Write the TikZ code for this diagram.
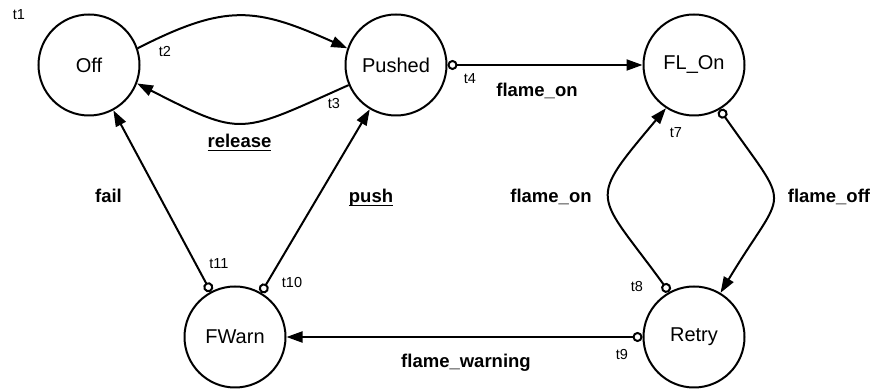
\documentclass[tikz,border=0pt]{standalone}
\usepackage{fontspec}
\setmainfont{Liberation Sans}
\usetikzlibrary{arrows.meta}
% bold event name with a thick underline
\newsavebox\evbox
\newcommand\ulevent[1]{\sbox\evbox{#1}\leavevmode\rlap{\rule[-3.5pt]{\wd\evbox}{1.5pt}}\usebox\evbox}
\begin{document}
\begin{tikzpicture}[x=1pt,y=1pt,
  state/.style={circle,draw,line width=2pt,minimum size=101pt,inner sep=0pt,
    font=\fontsize{20}{24}\selectfont},
  trans/.style={line width=2pt,-{Triangle[length=16pt,width=11pt]}},
  guarded/.style={line width=2pt,{Circle[open,length=10pt]}-{Triangle[length=16pt,width=11pt]}},
  tlab/.style={font=\fontsize{14.5}{17}\selectfont,inner sep=0pt},
  evlab/.style={font=\bfseries\fontsize{18.5}{22}\selectfont,inner sep=0pt,anchor=base}]
\useasboundingbox (0,0) rectangle (875,390);

% states
\node[state] (off)   at (89,325)  {Off};
\node[state] (push)  at (396,325) {Pushed};
\node[state] (flon)  at (694,325) {FL\_On};
\node[state] (fwarn) at (235,53)  {FWarn};
\node[state] (retry) at (694,53)  {Retry};

% transitions
\draw[trans] (off.19) .. controls +(27:100) and +(156:100) .. (push.161);
\draw[trans] (push.203) .. controls +(204:120) and +(-27:120) .. (off.-21);
\draw[guarded] (push) -- (flon);
\draw[guarded] (flon.-60) .. controls +(-55:128) and +(59:128) .. (retry.59);
\draw[guarded] (retry.119) .. controls +(126:125) and +(-130:125) .. (flon.-123);
\draw[guarded] (retry) -- (fwarn);
\draw[guarded] (fwarn) -- (off);
\draw[guarded] (fwarn) -- (push);

% transition ids
\node[tlab] (t1)  at (19,375)  {t1};
\node[tlab] (t2)  at (165,338) {t2};
\node[tlab] (t3)  at (334,286) {t3};
\node[tlab] (t4)  at (470,311) {t4};
\node[tlab] (t7)  at (676,257) {t7};
\node[tlab] (t8)  at (637,103) {t8};
\node[tlab] (t9)  at (622,35)  {t9};
\node[tlab] (t10) at (292,107) {t10};
\node[tlab] (t11) at (219,126) {t11};

% events
\node[evlab] (evrelease) at (239.5,242) {\ulevent{release}};
\node[evlab] (evon)      at (537,293)   {flame\_on};
\node[evlab] (evonback)  at (551,187)   {flame\_on};
\node[evlab] (evoff)     at (829,187)   {flame\_off};
\node[evlab] (evfail)    at (108.5,187) {fail};
\node[evlab] (evpush)    at (371,187)   {\ulevent{push}};
\node[evlab] (evwarn)    at (466,22)    {flame\_warning};
\end{tikzpicture}
\end{document}
